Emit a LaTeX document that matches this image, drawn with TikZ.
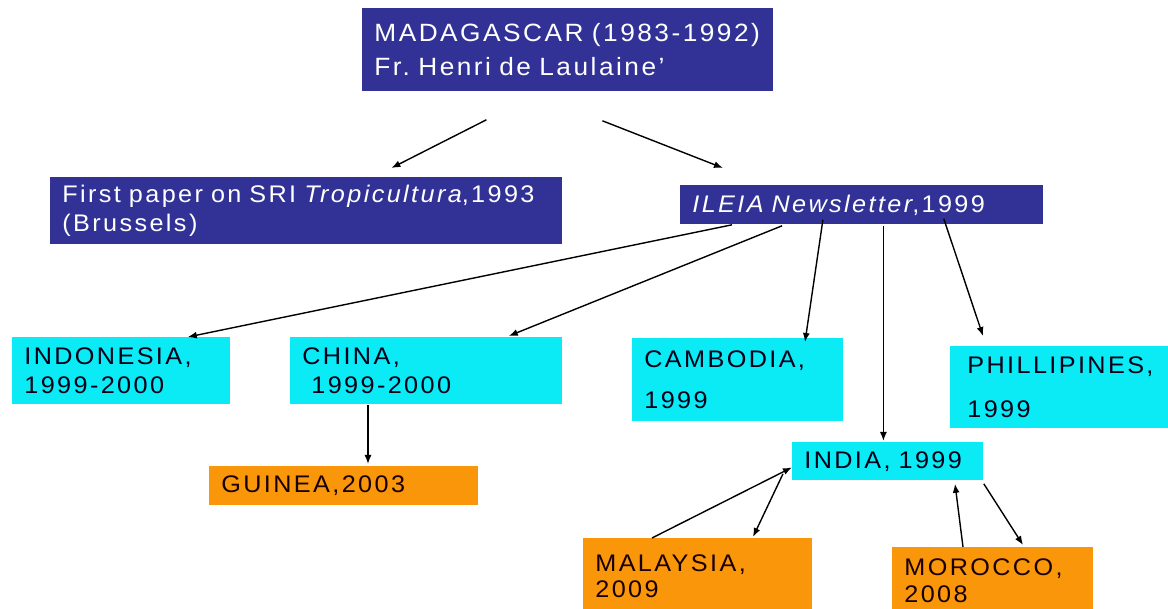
\documentclass[tikz,border=0pt]{standalone}
\usepackage{fontspec}
\setmainfont{Liberation Sans}[LetterSpace=10, FakeStretch=1.05]
\usetikzlibrary{arrows.meta}
\definecolor{boxblue}{RGB}{50,50,150}
\definecolor{boxcyan}{RGB}{10,235,245}
\definecolor{boxorange}{RGB}{250,150,10}

\begin{document}
\begin{tikzpicture}
    [x=1pt, y=-1pt,
    thick,
    box/.style={anchor=north west, inner xsep=12pt, inner ysep=0pt, align=left,
        font=\fontsize{24}{29}\selectfont},
    darkbox/.style={box, fill=boxblue, text=white},
    lightbox/.style={box, fill=boxcyan, text=black!90!blue},
    orangebox/.style={box, fill=boxorange, text=black!90!red},
    arr/.style={-{Latex[length=9pt,width=7pt]}, line width=1.4pt}]
        \useasboundingbox (0,0) rectangle (1168,609);
        %% Sources
        \node[darkbox, minimum width=411pt, minimum height=83pt, inner xsep=12pt, text width=387pt,
            font=\fontsize{25}{34}\selectfont] (mad) at (362,8)
            {MADAGASCAR~(1983-1992)\\Fr.~Henri~de~Laulaine'};
        \node[darkbox, minimum width=512pt, minimum height=67pt, text width=488pt] (first) at (50,177)
            {First~paper~on~SRI~\textit{Tropicultura},1993\\(Brussels)};
        \node[darkbox, minimum width=363pt, minimum height=39pt, text width=339pt] (ileia) at (680,185)
            {\textit{ILEIA~Newsletter},1999};
        %% Countries
        \node[lightbox, minimum width=218pt, minimum height=67pt, text width=194pt] (indo) at (12,337)
            {INDONESIA,\\1999-2000};
        \node[lightbox, minimum width=272pt, minimum height=67pt, text width=248pt] (china) at (290,337)
            {CHINA,\\\hspace*{9pt}1999-2000};
        \node[lightbox, minimum width=211pt, minimum height=83pt, text width=187pt,
            font=\fontsize{24}{41}\selectfont] (camb) at (632,338)
            {CAMBODIA,\\1999};
        \node[lightbox, minimum width=230pt, minimum height=82pt, inner xsep=17pt, text width=196pt,
            font=\fontsize{24}{44}\selectfont] (phil) at (950,346)
            {PHILLIPINES,\\1999};
        \node[lightbox, minimum width=191pt, minimum height=38pt, text width=167pt] (india) at (792,442)
            {INDIA,~1999};
        \node[orangebox, minimum width=269pt, minimum height=39pt, text width=245pt] (guinea) at (209,466)
            {GUINEA,2003};
        \node[orangebox, minimum width=229pt, minimum height=75pt, text width=205pt,
            font=\fontsize{24}{26}\selectfont] (malay) at (583,538)
            {MALAYSIA,\\2009};
        \node[orangebox, minimum width=201pt, minimum height=66pt, text width=177pt,
            font=\fontsize{24}{27}\selectfont] (moro) at (892,547)
            {MOROCCO,\\2008};

        %% Arrows
        \draw[arr] ([shift={(-81.5,28)}]mad.south) to ([shift={(85,-9)}]first.north);
        \draw[arr] ([shift={(34.5,29)}]mad.south) to ([shift={(43,-17)}]ileia.north west);
        \draw[arr] ([shift={(52,0)}]ileia.south west) to ([shift={(-43,0)}]indo.north east);
        \draw[arr] ([shift={(102,1)}]ileia.south west) to ([shift={(-54,-1)}]china.north east);
        \draw[arr] ([shift={(-39,-5)}]ileia.south) to ([shift={(173,4)}]camb.north west);
        \draw[arr] ([shift={(21.5,1)}]ileia.south) to ([shift={(-4.5,-1)}]india.north);
        \draw[arr] ([shift={(-100,-6)}]ileia.south east) to ([shift={(33,-10)}]phil.north west);
        \draw[arr] ([shift={(78,0)}]china.south west) to ([shift={(159,-2)}]guinea.north west);
        \draw[arr] ([shift={(69,0)}]malay.north west) to ([shift={(0,6)}]india.west);
        \draw[arr] ([shift={(-9,-7)}]india.south west) to ([shift={(170,-1)}]malay.north west);
        \draw[arr] ([shift={(71,0)}]moro.north west) to ([shift={(163,3)}]india.south west);
        \draw[arr] ([shift={(0,3)}]india.south east) to ([shift={(131,-2)}]moro.north west);
\end{tikzpicture}
\end{document}
